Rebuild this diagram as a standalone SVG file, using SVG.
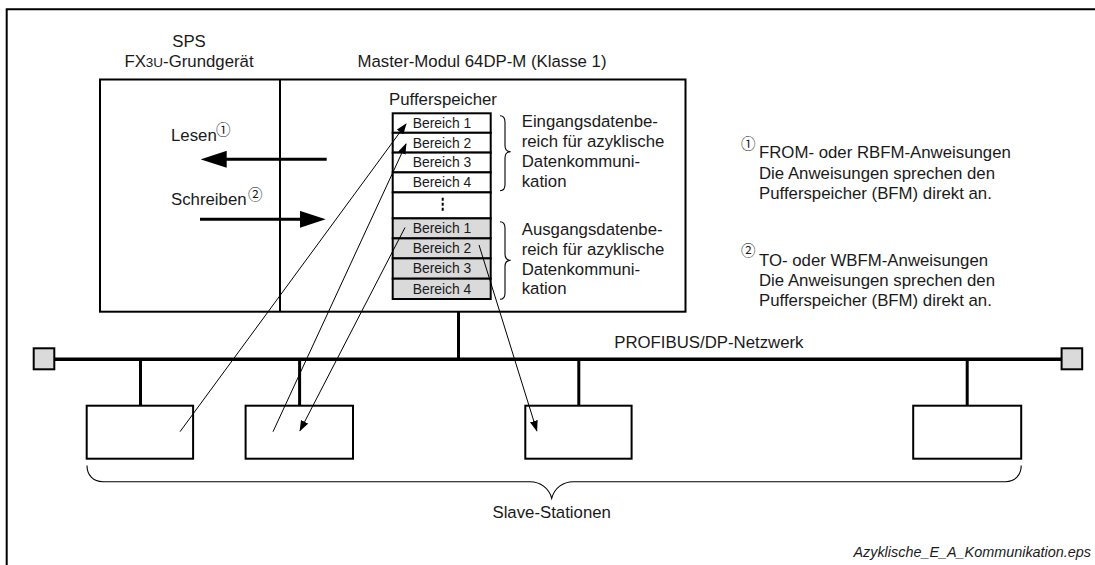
<svg xmlns="http://www.w3.org/2000/svg" width="1095" height="565" viewBox="0 0 1095 565">
  <defs>
    <style>
      .t{font-family:"Liberation Sans",Arial,sans-serif;font-size:16.8px;fill:#1a1a1a}
      .c{text-anchor:middle}
      .cell{font-family:"Liberation Sans",Arial,sans-serif;font-size:13.9px;fill:#1a1a1a;text-anchor:middle}
      .circ{font-family:"Noto Sans CJK JP","DejaVu Sans",sans-serif;font-size:14.5px;fill:#1a1a1a}
      .foot{font-family:"Liberation Sans",Arial,sans-serif;font-size:14.4px;font-style:italic;fill:#1a1a1a;text-anchor:end}
      .box{fill:none;stroke:#000;stroke-width:2}
      .slave{fill:#fff;stroke:#000;stroke-width:2}
      .row{fill:#fff;stroke:#000;stroke-width:2}
      .row.g{fill:#dadada}
      .bus{stroke:#000;stroke-width:3.5;fill:none}
      .stub{stroke:#000;stroke-width:3;fill:none}
      .thick{stroke:#000;stroke-width:3;fill:none}
      .thin{stroke:#000;stroke-width:1;fill:none}
      .brace{fill:none;stroke:#000;stroke-width:1.1}
      .term{fill:#dadada;stroke:#000;stroke-width:2}
    </style>
    <marker id="bigHead" markerUnits="userSpaceOnUse" markerWidth="26" markerHeight="17" viewBox="0 0 26 17" refX="16" refY="8.5" orient="auto">
      <path d="M0,0 L26,8.5 L0,17 z" fill="#000"/>
    </marker>
    <marker id="smallHead" markerUnits="userSpaceOnUse" markerWidth="11" markerHeight="8" viewBox="0 0 11 8" refX="10" refY="4" orient="auto">
      <path d="M0,0 L11,4 L0,8 z" fill="#000"/>
    </marker>
  </defs>

  <rect width="1095" height="565" fill="#fff"/>

  <!-- outer frame (open to the right and bottom) -->
  <path id="frame" d="M6.7,565 L6.7,9.3 L1095,9.3" class="box"/>

  <!-- headings -->
  <g id="headings">
    <text class="t c" x="189" y="46.7">SPS</text>
    <text class="t c" x="189" y="66.5">FX<tspan font-size="13.5px">3U</tspan>-Grundgerät</text>
    <text class="t c" x="482" y="66.7">Master-Modul 64DP-M (Klasse 1)</text>
  </g>

  <!-- PLC base unit + master module enclosure -->
  <g id="plc-master">
    <rect x="100" y="79.5" width="585.5" height="232.2" class="box"/>
    <line x1="280" y1="79.5" x2="280" y2="311.7" class="box"/>
    <text class="t" x="171" y="141">Lesen</text>
    <text class="circ" x="216" y="135">①</text>
    <text class="t" x="171" y="205">Schreiben</text>
    <text class="circ" x="248" y="200">②</text>
  </g>

  <!-- buffer memory table -->
  <g id="buffer">
    <text class="t c" x="443" y="105">Pufferspeicher</text>
    <rect class="row" x="392.7" y="113.3" width="98" height="19.5"/>
    <rect class="row" x="392.7" y="132.8" width="98" height="19.8"/>
    <rect class="row" x="392.7" y="152.6" width="98" height="19.8"/>
    <rect class="row" x="392.7" y="172.4" width="98" height="20"/>
    <rect class="row" x="392.7" y="192.4" width="98" height="26"/>
    <rect class="row g" x="392.7" y="218.4" width="98" height="20"/>
    <rect class="row g" x="392.7" y="238.4" width="98" height="20"/>
    <rect class="row g" x="392.7" y="258.4" width="98" height="20.3"/>
    <rect class="row g" x="392.7" y="278.7" width="98" height="20.3"/>
    <line x1="442.7" y1="197.7" x2="442.7" y2="212" stroke="#000" stroke-width="2" stroke-dasharray="3,2"/>
    <text class="cell" x="442" y="127.8">Bereich 1</text>
    <text class="cell" x="442" y="147.5">Bereich 2</text>
    <text class="cell" x="442" y="167.3">Bereich 3</text>
    <text class="cell" x="442" y="187.2">Bereich 4</text>
    <text class="cell" x="442" y="233.2">Bereich 1</text>
    <text class="cell" x="442" y="253.2">Bereich 2</text>
    <text class="cell" x="442" y="273.4">Bereich 3</text>
    <text class="cell" x="442" y="293.7">Bereich 4</text>
  </g>

  <!-- area descriptions with braces -->
  <g id="area-input">
    <path class="brace" d="M500,115.7 C504,115.7 505,118 505,122 L505,145.5 C505,149.5 507,151.7 510.7,151.7 C507,151.7 505,154 505,158 L505,184.5 C505,188.5 504,190.7 500,190.7"/>
    <text class="t" x="521.7" y="127.3">Eingangsdatenbe-</text>
    <text class="t" x="521.7" y="147">reich für azyklische</text>
    <text class="t" x="521.7" y="167">Datenkommuni-</text>
    <text class="t" x="521.7" y="186.8">kation</text>
  </g>
  <g id="area-output">
    <path class="brace" d="M500,221.7 C504,221.7 505,224 505,228 L505,254 C505,258 507,260.3 510.7,260.3 C507,260.3 505,262.5 505,266.5 L505,293 C505,297 504,299.3 500,299.3"/>
    <text class="t" x="521.7" y="235">Ausgangsdatenbe-</text>
    <text class="t" x="521.7" y="254.7">reich für azyklische</text>
    <text class="t" x="521.7" y="274.5">Datenkommuni-</text>
    <text class="t" x="521.7" y="294.3">kation</text>
  </g>

  <!-- footnotes -->
  <g id="notes">
    <text class="circ" x="741" y="148.8">①</text>
    <text class="t" x="759" y="158.3">FROM- oder RBFM-Anweisungen</text>
    <text class="t" x="759" y="178.6">Die Anweisungen sprechen den</text>
    <text class="t" x="759" y="198.8">Pufferspeicher (BFM) direkt an.</text>
    <text class="circ" x="741" y="255.5">②</text>
    <text class="t" x="759" y="265.7">TO- oder WBFM-Anweisungen</text>
    <text class="t" x="759" y="285.7">Die Anweisungen sprechen den</text>
    <text class="t" x="759" y="305.7">Pufferspeicher (BFM) direkt an.</text>
  </g>

  <!-- PROFIBUS line with terminators -->
  <g id="bus">
    <line class="bus" x1="54" y1="359.3" x2="1061.6" y2="359.3"/>
    <rect class="term" x="33.7" y="348.3" width="20.6" height="21"/>
    <rect class="term" x="1061.6" y="348.3" width="20.6" height="21"/>
    <line class="stub" x1="458.5" y1="311.7" x2="458.5" y2="359.3"/>
    <text class="t" x="614.2" y="348.3">PROFIBUS/DP-Netzwerk</text>
  </g>

  <!-- slave stations -->
  <g id="slave1">
    <line class="stub" x1="140.5" y1="359.3" x2="140.5" y2="405.7"/>
    <rect class="slave" x="86.7" y="405.7" width="106.4" height="53"/>
  </g>
  <g id="slave2">
    <line class="stub" x1="299.6" y1="359.3" x2="299.6" y2="405.7"/>
    <rect class="slave" x="245.6" y="405.7" width="107.4" height="53"/>
  </g>
  <g id="slave3">
    <line class="stub" x1="578.8" y1="359.3" x2="578.8" y2="405.7"/>
    <rect class="slave" x="525.3" y="405.7" width="106.3" height="53"/>
  </g>
  <g id="slave4">
    <line class="stub" x1="967.2" y1="359.3" x2="967.2" y2="405.7"/>
    <rect class="slave" x="913.2" y="405.7" width="108" height="53"/>
  </g>

  <!-- grouping brace for the slaves -->
  <g id="slave-group">
    <path class="brace" d="M87,465.5 C87,475 93,481.7 103,481.7 L530,481.7 C540,481.7 549,488 551.7,498.3 C554.4,488 563,481.7 573.3,481.7 L1005.5,481.7 C1015,481.7 1021.2,475 1021.2,465.5"/>
    <text class="t c" x="551.7" y="518.3">Slave-Stationen</text>
  </g>

  <!-- data flow connectors -->
  <g id="connectors">
    <line class="thick" x1="326.7" y1="159.3" x2="210.7" y2="159.3" marker-end="url(#bigHead)"/>
    <line class="thick" x1="200" y1="219.3" x2="315.7" y2="219.3" marker-end="url(#bigHead)"/>
    <line class="thin" x1="180" y1="431.7" x2="406" y2="124" marker-end="url(#smallHead)"/>
    <line class="thin" x1="273" y1="431.7" x2="406" y2="144" marker-end="url(#smallHead)"/>
    <line class="thin" x1="405" y1="227.5" x2="300" y2="430.7" marker-end="url(#smallHead)"/>
    <line class="thin" x1="479" y1="245" x2="536.8" y2="430.7" marker-end="url(#smallHead)"/>
  </g>

  <text id="file-name" class="foot" x="1091" y="557">Azyklische_E_A_Kommunikation.eps</text>
</svg>
